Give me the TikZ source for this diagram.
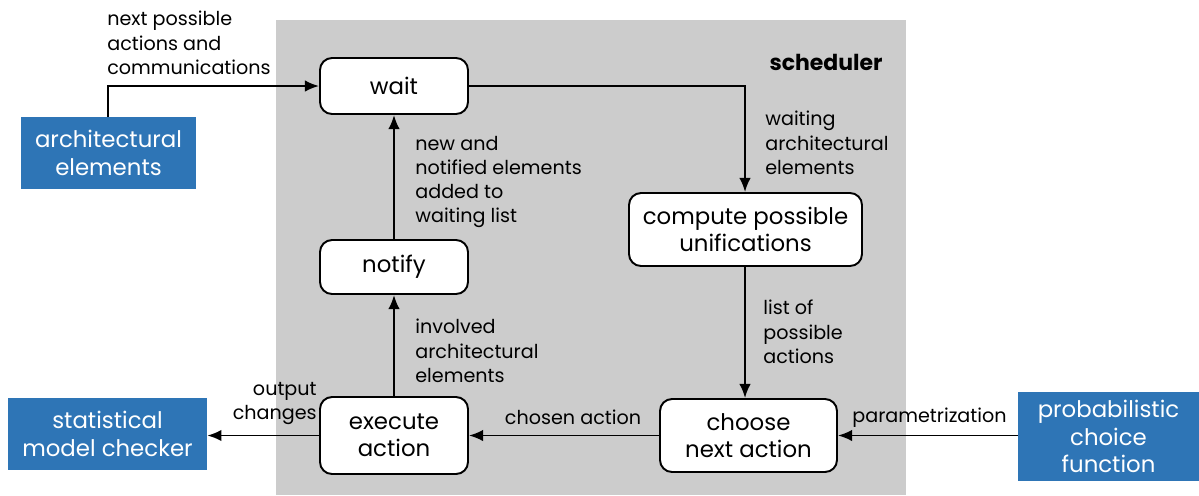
\documentclass[tikz,border=0pt]{standalone}
\usepackage{fontspec}
\setmainfont{Poppins}
\usetikzlibrary{arrows.meta}
\definecolor{bgray}{HTML}{CCCCCC}
\definecolor{bblue}{HTML}{2E75B6}
\begin{document}
\begin{tikzpicture}[x=0.02cm,y=-0.02cm,
  proc/.style={draw=black,fill=white,line width=1.1pt,rounded corners=0.24cm,align=center,font=\fontsize{13}{15.5}\selectfont,inner sep=0pt},
  ext/.style={fill=bblue,text=white,align=center,font=\fontsize{13}{15.5}\selectfont,inner sep=0pt},
  lbl/.style={align=left,font=\fontsize{10.9}{13.7}\selectfont,inner sep=0pt},
  conn/.style={line width=1.1pt,-{Latex[length=8pt,width=6.5pt]}}]
\useasboundingbox (0,0) rectangle (1199,495);
\fill[bgray] (276,20) rectangle (906,495);
\node[font=\fontsize{12.5}{15}\selectfont\bfseries,inner sep=0pt] (sched) at (826,62) {scheduler};
\node[proc,minimum width=148*0.02cm,minimum height=56*0.02cm] (wait) at (394,86) {wait};
\node[proc,minimum width=148*0.02cm,minimum height=54*0.02cm] (notify) at (394,267) {notify};
\node[proc,minimum width=148*0.02cm,minimum height=77*0.02cm] (exec) at (394,435.5) {execute\\action};
\node[proc,minimum width=233*0.02cm,minimum height=73*0.02cm] (comp) at (745.5,229.5) {compute possible\\unifications};
\node[proc,minimum width=177*0.02cm,minimum height=73*0.02cm] (choose) at (748.5,435.5) {choose\\next action};
\node[ext,minimum width=175*0.02cm,minimum height=72*0.02cm] (arch) at (108.5,153) {architectural\\elements};
\node[ext,minimum width=199*0.02cm,minimum height=72*0.02cm] (smc) at (107.5,434) {statistical\\model checker};
\node[ext,minimum width=181*0.02cm,minimum height=89*0.02cm] (pcf) at (1108.5,436.5) {probabilistic\\choice\\function};
\coordinate (c1) at (108,86);
\coordinate (c2) at (745,86);
\draw[conn] (arch.north -| c1) -- (c1) -- (wait.west);
\draw[conn] (wait.east) -- (c2) -- (comp.north -| c2);
\draw[conn] (comp.south -| c2) -- (choose.north -| c2);
\draw[conn] (choose.west) -- (exec.east |- choose.west);
\draw[conn] (exec.north) -- (notify.south);
\draw[conn] (notify.north) -- (wait.south);
\draw[conn] (exec.west) -- (smc.east |- exec.west);
\draw[conn] (pcf.west |- choose.east) -- (choose.east);
\node[lbl,anchor=north west] (l1) at (107,11) {next possible\\actions and\\communications};
\node[lbl,anchor=north west] (l2) at (415,136) {new and\\notified elements\\added to\\waiting list};
\node[lbl,anchor=north west] (l3) at (765,111) {waiting\\architectural\\elements};
\node[lbl,anchor=north west] (l4) at (763,300) {list of\\possible\\actions};
\node[lbl,anchor=north west] (l5) at (415,319) {involved\\architectural\\elements};
\node[lbl,anchor=north east,align=right] (l6) at (317,382) {output\\changes};
\node[lbl] (l7) at (573,417) {chosen action};
\node[lbl,anchor=west] (l8) at (852,418) {parametrization};
\end{tikzpicture}
\end{document}
